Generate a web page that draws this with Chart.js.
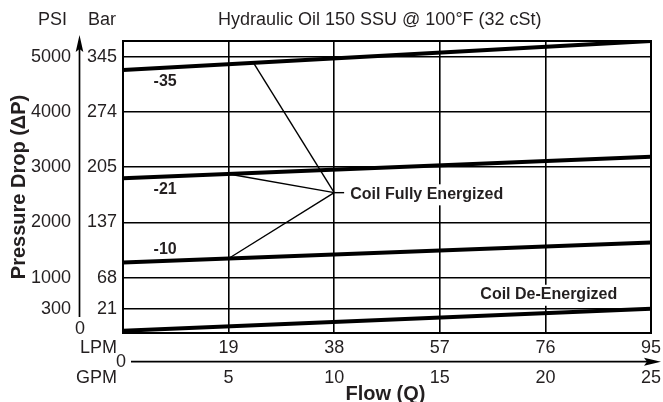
<!DOCTYPE html>
<html>
<head>
<meta charset="utf-8">
<script src="https://cdn.jsdelivr.net/npm/chart.js@4"></script>
<style>
  html, body { margin: 0; padding: 0; background: #fff; }
  #wrap { width: 663px; height: 402px; }
</style>
</head>
<body>
<div id="wrap"><canvas id="dp_canvas" width="663" height="402"></canvas></div>
<script>
// flow in GPM, pressure drop in PSI
var flowGpm = [0, 25];
var dpMinus35 = [4760, 5285];
var dpMinus21 = [2800, 3190];
var dpMinus10 = [1275, 1640];
var dpDeEnergized = [40, 440];

// horizontal grid (the 300 psi line sits where the original figure puts it)
var gridPsi = [0, 440, 1000, 2000, 3000, 4000, 5000];
var psiLabels = ['0', '300', '1000', '2000', '3000', '4000', '5000'];
var barLabels = ['', '21', '68', '137', '205', '274', '345'];

var gpmTicks = [5, 10, 15, 20, 25];
var lpmLabels = ['19', '38', '57', '76', '95'];
var gpmLabels = ['5', '10', '15', '20', '25'];

// "Coil Fully Energized" leader lines
var calloutHub = { x: 10, y: 2540 };
var calloutTargets = [{ x: 6.18, y: 4890 }, { x: 5, y: 2878 }, { x: 5, y: 1348 }];

var FONT = "'Liberation Sans', Arial, Helvetica, sans-serif";

function pts(ys) {
    return flowGpm.map(function (x, i) { return { x: x, y: ys[i] }; });
}

function curve(label, ys) {
    return {
        label: label,
        data: pts(ys),
        borderColor: '#000',
        borderWidth: 4,
        pointRadius: 0,
        tension: 0
    };
}

function leader(a, b) {
    return {
        label: 'leader',
        data: [a, b],
        borderColor: '#000',
        borderWidth: 1.4,
        pointRadius: 0,
        tension: 0
    };
}

var datasets = [
    curve('-35', dpMinus35),
    curve('-21', dpMinus21),
    curve('-10', dpMinus10),
    curve('De-Energized', dpDeEnergized)
];
calloutTargets.forEach(function (t) { datasets.push(leader(t, calloutHub)); });
datasets.push(leader(calloutHub, { x: calloutHub.x + 0.47, y: calloutHub.y }));

// label with a white box behind it, like the original figure
function boxedText(c, txt, x, y) {
    var w = c.measureText(txt).width;
    c.save();
    c.fillStyle = '#fff';
    c.fillRect(x - 2, y - 10, w + 4, 21);
    c.restore();
    c.fillText(txt, x, y);
}

var textPlugin = {
    id: 'textPlugin',
    afterDraw: function (chart) {
        var c = chart.ctx;
        var xs = chart.scales.x, ys = chart.scales.y;
        var a = chart.chartArea;
        c.save();

        // frame
        c.strokeStyle = '#000';
        c.lineWidth = 2;
        c.strokeRect(a.left, a.top, a.right - a.left, a.bottom - a.top);

        // y arrow
        var ax = 79.5;
        c.lineWidth = 1.7;
        c.beginPath();
        c.moveTo(ax, 317);
        c.lineTo(ax, 46);
        c.stroke();
        c.fillStyle = '#000';
        c.beginPath();
        c.moveTo(ax, 35);
        c.lineTo(ax + 3.8, 52);
        c.lineTo(ax, 49);
        c.lineTo(ax - 3.8, 52);
        c.closePath();
        c.fill();

        // x arrow
        var ay = 361.7;
        c.beginPath();
        c.moveTo(131, ay);
        c.lineTo(650, ay);
        c.stroke();
        c.beginPath();
        c.moveTo(661, ay);
        c.lineTo(644, ay - 4);
        c.lineTo(647, ay);
        c.lineTo(644, ay + 4);
        c.closePath();
        c.fill();

        c.fillStyle = '#231f20';
        c.font = '18px ' + FONT;
        c.textBaseline = 'middle';

        // headers
        c.textAlign = 'left';
        c.fillText('PSI', 38, 20);
        c.fillText('Bar', 88, 20);
        c.fillText('Hydraulic Oil 150 SSU @ 100\u00B0F (32 cSt)', 218, 20);

        // y tick labels
        for (var i = 0; i < gridPsi.length; i++) {
            var py = ys.getPixelForValue(gridPsi[i]);
            if (gridPsi[i] === 0) {
                c.textAlign = 'center';
                c.fillText(psiLabels[i], 80, py - 4);
                continue;
            }
            c.textAlign = 'right';
            c.fillText(psiLabels[i], 71, py);
            c.fillText(barLabels[i], 117, py);
        }

        // x tick labels
        c.textAlign = 'right';
        c.fillText('LPM', 117, 348);
        c.fillText('GPM', 117, 378);
        c.textAlign = 'center';
        c.fillText('0', 121, ay);
        for (var j = 0; j < gpmTicks.length; j++) {
            var px = xs.getPixelForValue(gpmTicks[j]);
            c.fillText(lpmLabels[j], px, 348);
            c.fillText(gpmLabels[j], px, 378);
        }

        // axis titles
        c.font = 'bold 20px ' + FONT;
        c.fillText('Flow (Q)', 385.5, 394);
        c.save();
        c.translate(19, 187);
        c.rotate(-Math.PI / 2);
        c.fillText('Pressure Drop (\u0394P)', 0, 0);
        c.restore();

        // curve labels
        c.font = 'bold 16px ' + FONT;
        c.textAlign = 'left';
        c.fillText('-35', xs.getPixelForValue(1.45), ys.getPixelForValue(4545));
        c.fillText('-21', xs.getPixelForValue(1.45), ys.getPixelForValue(2589));
        c.fillText('-10', xs.getPixelForValue(1.45), ys.getPixelForValue(1517));
        boxedText(c, 'Coil Fully Energized', xs.getPixelForValue(10.76), ys.getPixelForValue(2510));
        boxedText(c, 'Coil De-Energized', xs.getPixelForValue(16.92), ys.getPixelForValue(692));

        c.restore();
    }
};

var canvas = document.getElementById('dp_canvas');
var ctx = canvas.getContext('2d');
var dpChart = new Chart(ctx, {
    type: 'line',
    data: { datasets: datasets },
    options: {
        responsive: false,
        devicePixelRatio: 1,
        animation: false,
        layout: { padding: { left: 123, top: 41, right: 12, bottom: 69 } },
        plugins: {
            legend: { display: false },
            tooltip: { enabled: false }
        },
        scales: {
            x: {
                type: 'linear',
                min: 0,
                max: 25,
                afterBuildTicks: function (axis) {
                    axis.ticks = [0].concat(gpmTicks).map(function (v) { return { value: v }; });
                },
                ticks: { display: false },
                grid: { color: '#000', lineWidth: 1.6, drawTicks: false },
                border: { display: false }
            },
            y: {
                type: 'linear',
                min: 0,
                max: 5285,
                afterBuildTicks: function (axis) {
                    axis.ticks = gridPsi.map(function (v) { return { value: v }; });
                },
                ticks: { display: false },
                grid: { color: '#000', lineWidth: 1.6, drawTicks: false },
                border: { display: false }
            }
        }
    },
    plugins: [textPlugin]
});
</script>
</body>
</html>
